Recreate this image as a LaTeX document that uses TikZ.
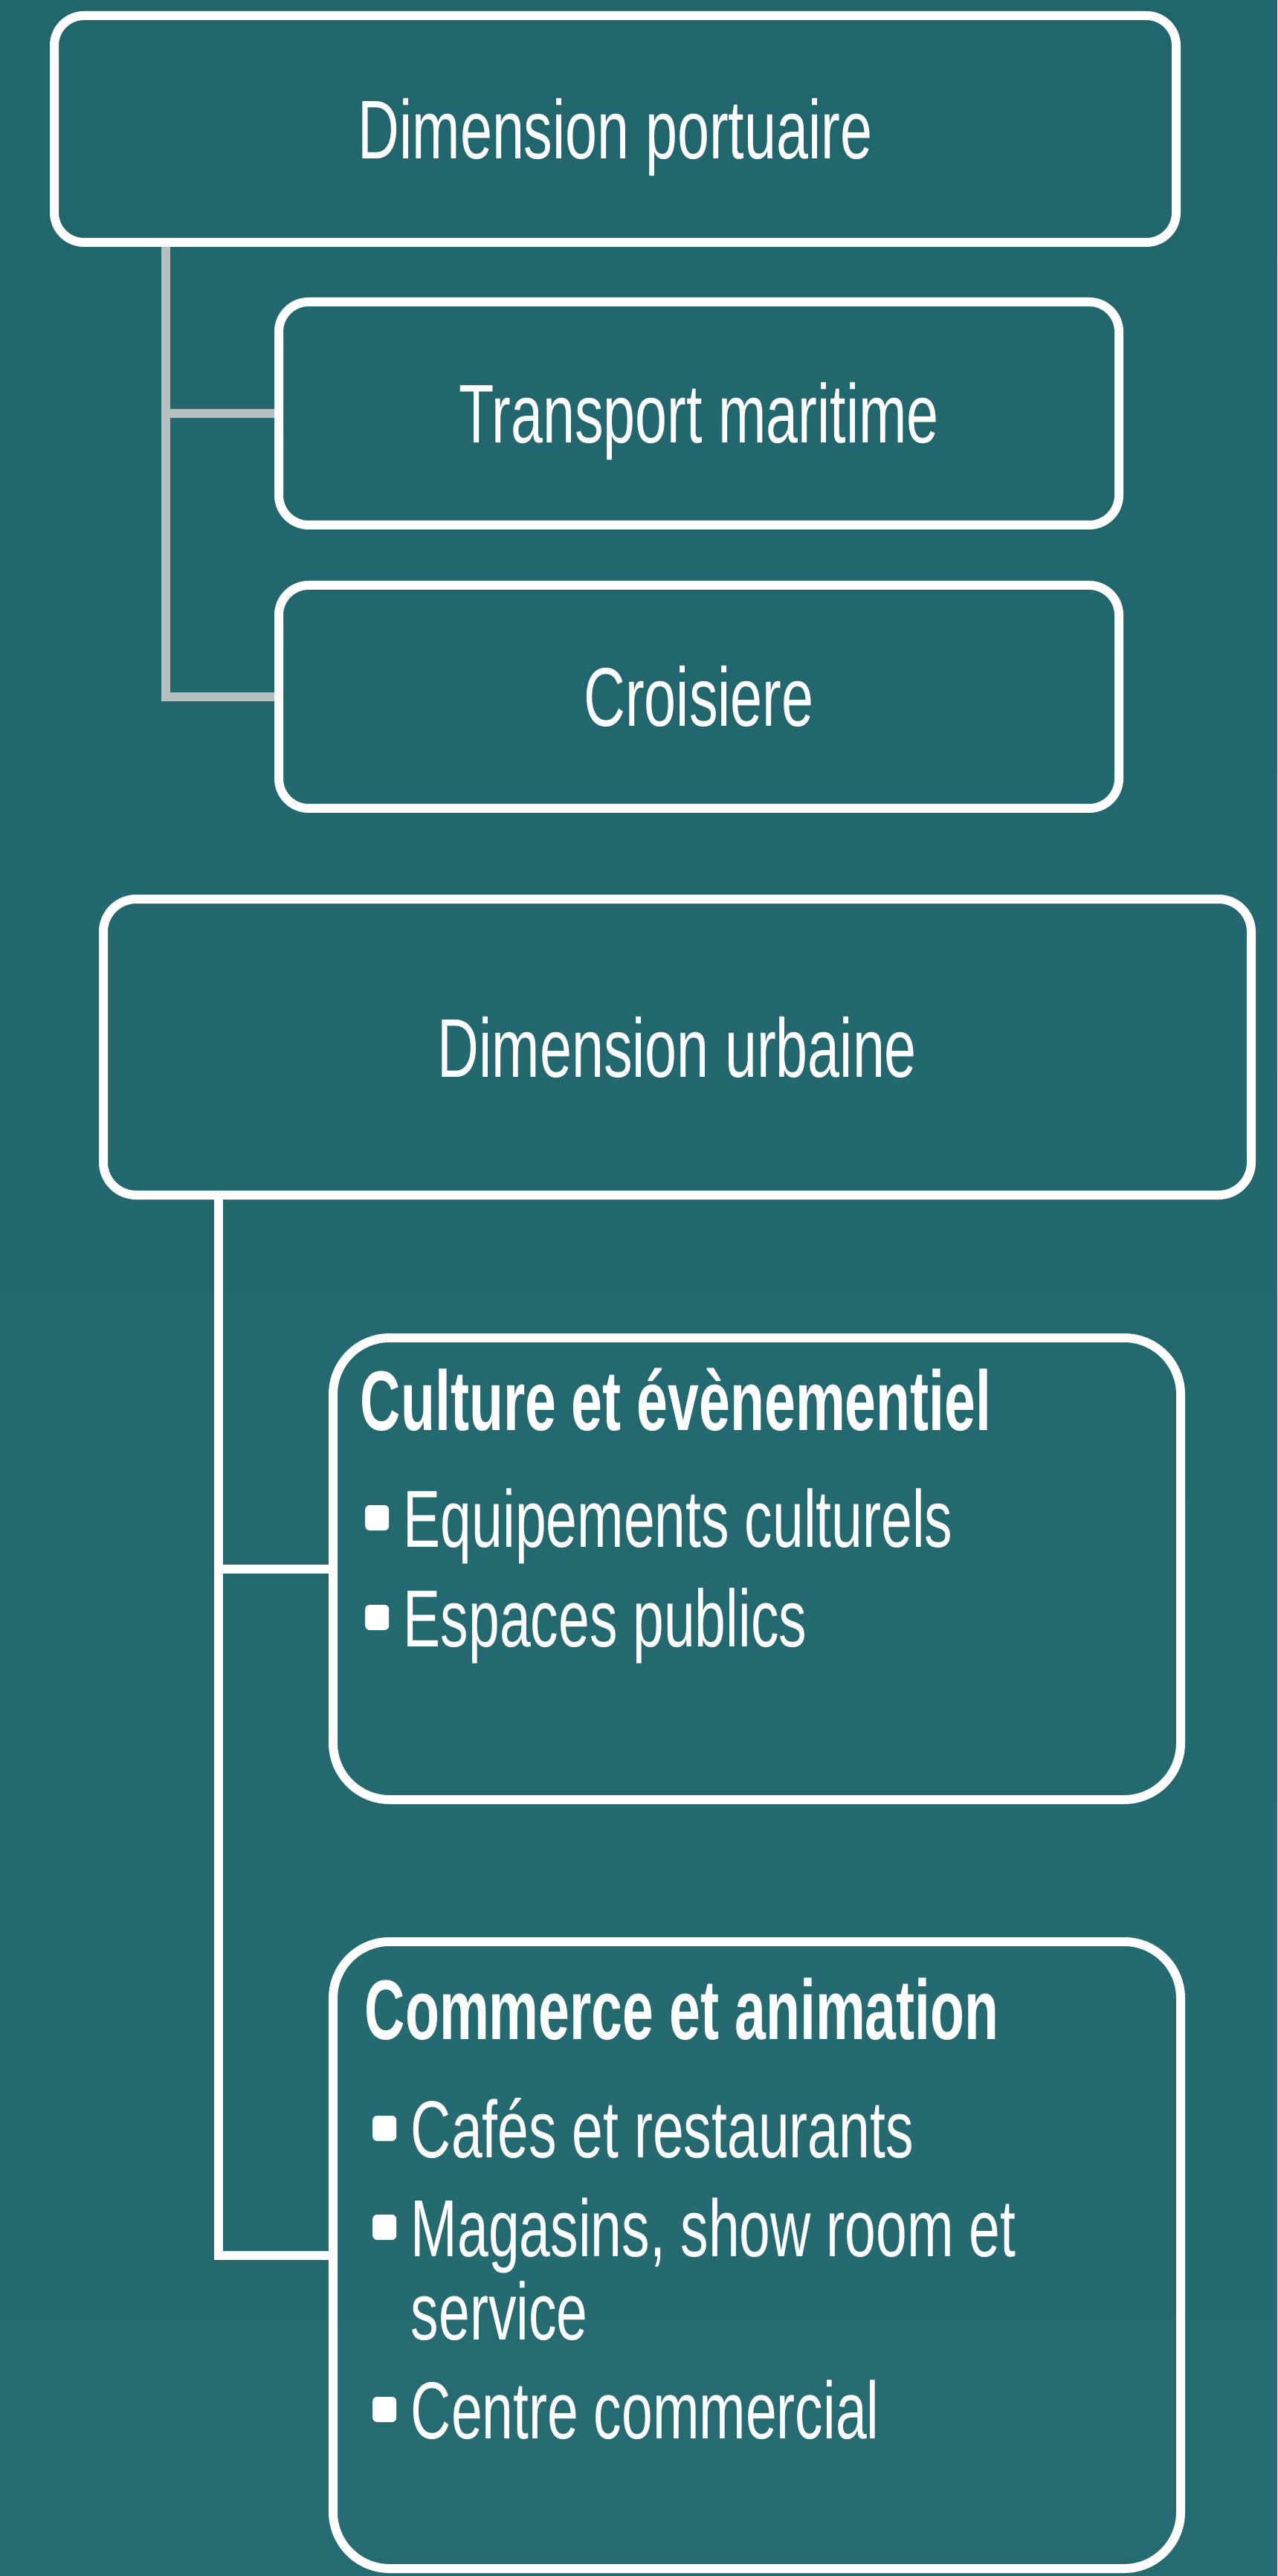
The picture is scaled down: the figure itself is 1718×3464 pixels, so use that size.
\documentclass[tikz,border=0pt]{standalone}
\usepackage{fontspec}
\setmainfont{Liberation Sans}[FakeStretch=0.69]
\newfontfamily\headfont{Liberation Sans}[FakeStretch=0.66]
\usetikzlibrary{positioning}
\definecolor{seatop}{RGB}{33,101,109}
\definecolor{seamid}{RGB}{30,111,115}
\definecolor{seabot}{RGB}{39,107,114}
\definecolor{linkgray}{RGB}{182,191,191}

\begin{document}
\begin{tikzpicture} [
        x=0.25pt, y=-0.25pt,
        dimbox/.style={
            rectangle,
            draw=white,
            line width=3pt,
            rounded corners=10pt,
            text=white,
            font=\fontsize{28}{34}\selectfont,
            text height=20pt,
            text depth=0pt
        },
        subbox/.style={
            dimbox,
            minimum width=282.5pt,
            minimum height=75pt
        },
        listbox/.style={
            rectangle,
            draw=white,
            line width=3pt,
            rounded corners=19pt,
            minimum width=285pt
        },
        headtext/.style={
            anchor=base west,
            inner sep=0pt,
            text=white,
            font=\headfont\bfseries\fontsize{28.5}{34}\selectfont
        },
        itemtext/.style={
            anchor=base west,
            inner sep=0pt,
            text=white,
            font=\fontsize{27.2}{33}\selectfont,
            text height=19.5pt,
            text depth=0pt
        },
        bulletbox/.style={
            rectangle,
            fill=white,
            rounded corners=1.5pt,
            inner sep=0pt,
            minimum width=8pt,
            minimum height=8.5pt
        },
        graylink/.style={draw=linkgray, line width=3pt},
        whitelink/.style={draw=white, line width=3pt}
    ]

        \shade[top color=seatop, middle color=seamid, bottom color=seabot] (0,0) rectangle (1718,3464);
        \useasboundingbox (0,0) rectangle (1718,3464);

        \node[dimbox, minimum width=377.25pt, minimum height=76.25pt] (dimport) at (827.5,173.5) {Dimension portuaire};
        \node[subbox] (transp) at (940,556)                  {Transport maritime};
        \node[subbox] (crois)  [below=17.25pt of transp]     {Croisiere};

        \node[dimbox, rounded corners=11pt, minimum width=386pt, minimum height=99.5pt] (dimurb) at (911,1408) {Dimension urbaine};

        \node[listbox, minimum height=155.25pt] (cult) at (1018,2109.5)         {};
        \node[listbox, minimum height=210.75pt] (comm) [below=44.75pt of cult]  {};

        \node[headtext] (culthead) at (484,1923) {Culture et évènementiel};
        \node[itemtext] (equip)    at (542,2080) {Equipements culturels};
        \node[itemtext] (espaces)  at (542,2214) {Espaces publics};
        \node[bulletbox] (bl0) [left=4.5pt of equip.west]   {};
        \node[bulletbox] (bl1) [left=4.5pt of espaces.west] {};

        \node[headtext] (commhead) at (490,2742) {Commerce et animation};
        \node[itemtext] (cafes)    at (552,2901) {Cafés et restaurants};
        \node[itemtext] (magas)    at (552,3034) {Magasins, show room et};
        \node[itemtext] (servi)    at (552,3146) {service};
        \node[itemtext] (centre)   at (552,3279) {Centre commercial};
        \node[bulletbox] (bl2) [left=4.5pt of cafes.west]  {};
        \node[bulletbox] (bl3) [left=4.5pt of magas.west]  {};
        \node[bulletbox] (bl4) [left=4.5pt of centre.west] {};

        \coordinate (gtop) at (223,332);
        \draw[graylink] (gtop) |- (crois.west);
        \draw[graylink] (gtop |- transp.west) -- (transp.west);

        \coordinate (wtop) at (294,1613);
        \draw[whitelink] (wtop) |- (comm.west);
        \draw[whitelink] (wtop |- cult.west) -- (cult.west);

    \end{tikzpicture}
\end{document}
